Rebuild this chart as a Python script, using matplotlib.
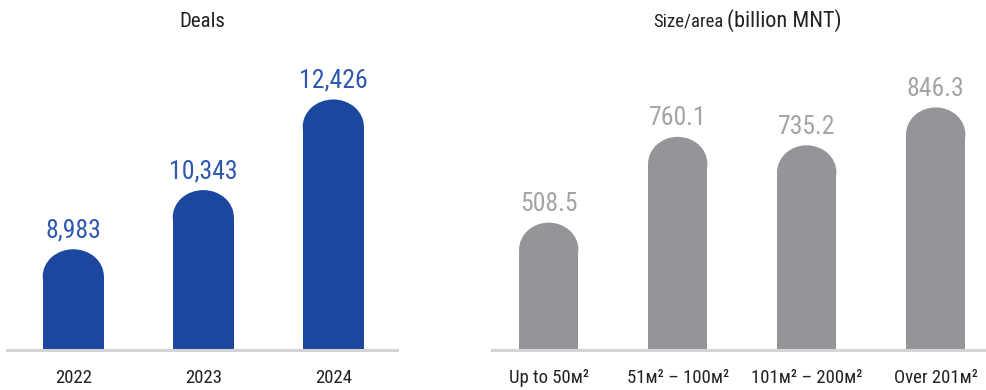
import numpy as np
import matplotlib
matplotlib.use("Agg")
import matplotlib.pyplot as plt
from matplotlib.patches import Ellipse

plt.rcParams["font.family"] = ["Roboto Condensed", "DejaVu Sans"]
plt.rcParams["font.stretch"] = "condensed"

# Deals panel
deal_years = ["2022", "2023", "2024"]
deal_counts = [8983, 10343, 12426]

# Size/area panel (billion MNT)
size_labels = ["Up to 50м²", "51м² – 100м²", "101м² – 200м²", "Over 201м²"]
size_values = [508.5, 760.1, 735.2, 846.3]

BLUE = "#1b489e"
BLUE_TXT = "#2d57b0"
GRAY = "#939598"
GRAY_TXT = "#a3a4a7"
BASE = "#d4d4d4"


def rounded_bars(ax, x, vals, base, width, color, cap_px=27):
    # bar body from the library, then an ellipse on top for the rounded cap
    fig = ax.figure
    fig.canvas.draw()
    p0 = ax.transData.inverted().transform((0, 0))
    p1 = ax.transData.inverted().transform((0, cap_px))
    ry = p1[1] - p0[1]
    vals = np.asarray(vals, dtype=float)
    ax.bar(x, vals - base - ry, bottom=base, width=width, color=color,
           linewidth=0, zorder=2)
    for xi, v in zip(x, vals):
        ax.add_patch(Ellipse((xi, v - ry), width, 2 * ry, color=color,
                             linewidth=0, zorder=2))


def style_axis(ax, labels):
    for s in ["top", "right", "left"]:
        ax.spines[s].set_visible(False)
    ax.spines["bottom"].set_color(BASE)
    ax.spines["bottom"].set_linewidth(2.2)
    ax.set_yticks([])
    ax.set_xticks(range(len(labels)))
    ax.set_xticklabels(labels, fontsize=13.5, color="#222222")
    ax.tick_params(axis="x", length=0, pad=14)


fig = plt.figure(figsize=(9.86, 3.9), dpi=100)

# left panel
ax1 = fig.add_axes([7 / 986, 40 / 390, 390 / 986, 310 / 390])
ax1.set_xlim(-0.51, 2.49)
ax1.set_ylim(6667, 13793)
style_axis(ax1, deal_years)
x1 = np.arange(len(deal_counts))
rounded_bars(ax1, x1, deal_counts, 6667, 0.47, BLUE)
for xi, v in zip(x1, deal_counts):
    ax1.annotate(f"{v:,}", (xi, v), xytext=(0, 8.5), textcoords="offset points",
                 ha="center", va="baseline", fontsize=18.5, color=BLUE_TXT)

# right panel
ax2 = fig.add_axes([492 / 986, 40 / 390, 494 / 986, 310 / 390])
ax2.set_xlim(-0.44, 3.39)
ax2.set_ylim(135, 1044)
style_axis(ax2, size_labels)
x2 = np.arange(len(size_values))
rounded_bars(ax2, x2, size_values, 135, 0.46, GRAY)
for xi, v in zip(x2, size_values):
    ax2.annotate(f"{v:.1f}", (xi, v), xytext=(0, 8.5), textcoords="offset points",
                 ha="center", va="baseline", fontsize=18.5, color=GRAY_TXT)

# titles
fig.text(202 / 986, 1 - 27 / 390, "Deals", ha="center", va="baseline",
         fontsize=15, color="#222222")
fig.text(723 / 986, 1 - 27 / 390, "Size/area", ha="right", va="baseline",
         fontsize=13.5, color="#222222")
fig.text(727 / 986, 1 - 27 / 390, "(billion MNT)", ha="left", va="baseline",
         fontsize=16, color="#222222")

fig.savefig("out.png", dpi=100)
